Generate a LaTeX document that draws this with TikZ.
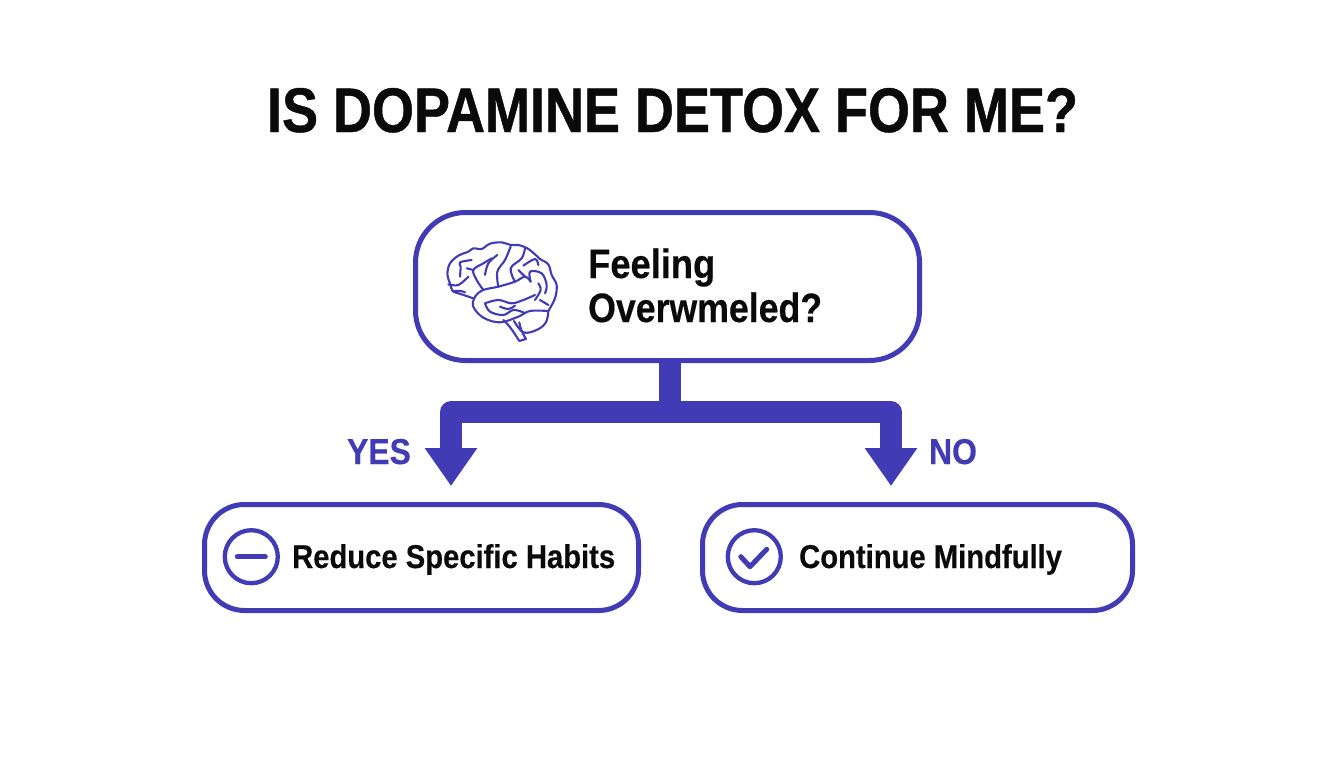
\documentclass[tikz,border=0pt]{standalone}
\usepackage{fontspec}
\usetikzlibrary{arrows.meta}
\setmainfont{Liberation Sans}
\newfontfamily\cond{Liberation Sans Bold}[FakeStretch=0.885,FakeBold=0.35]
\newfontfamily\condq{Liberation Sans Bold}[FakeStretch=0.87,FakeBold=0.35]
\newfontfamily\condt{Liberation Sans Bold}[FakeStretch=0.857,FakeBold=0.7]
\definecolor{ind}{HTML}{413BB5}
\definecolor{ink}{HTML}{0A0A0A}
\tikzset{
 boxs/.style={draw=ind,line width=5pt,fill=white,rounded corners=40pt,inner sep=0pt,outer sep=0pt,anchor=north west},
 lab/.style={font=\cond,text=ink,inner sep=0pt,anchor=base west},
 conn/.style={draw=ind,line width=21.5pt,line join=round},
 arr/.style={conn,-{Triangle[length=38pt,width=50pt]}},
 ic/.style={draw=ind,line width=5pt,line cap=round,line join=round},
 cir/.style={draw=ind,line width=4.3pt,circle,minimum size=53pt,inner sep=0pt,outer sep=0pt},
 br/.style={draw=ind,line width=2.1pt,line cap=round,line join=round},
}
\begin{document}
\begin{tikzpicture}[x=1pt,y=-1pt]
\useasboundingbox (0,0) rectangle (1344,768);
\fill[white] (0,0) rectangle (1344,768);
\node[font=\fontsize{63}{63}\condt,text=ink,inner sep=0pt,anchor=base] (title) at (672.5,132) {IS DOPAMINE DETOX FOR ME?};
\node[boxs,minimum width=504pt,minimum height=148pt,rounded corners=50pt] (main) at (415.5,212.5) {};
\node[boxs,minimum width=434pt,minimum height=106pt] (reduce) at (204.5,504.5) {};
\node[boxs,minimum width=430pt,minimum height=106pt] (cont) at (702.5,504.5) {};
\coordinate (jct) at (670,412);
\coordinate (ltip) at (451,486);
\coordinate (rtip) at (891,486);
\draw[conn] (jct |- main.south) -- (jct);
\draw[arr] (jct) -| (ltip);
\draw[arr] (jct) -| (rtip);
\node[lab,font=\fontsize{41}{41}\cond] (l1) at (588,278) {Feeling};
\node[lab,font=\fontsize{41}{41}\condq] (l2) at (588,322) {Overwmeled?};
\node[lab,font=\fontsize{33}{33}\cond] (r) at (292,568) {Reduce Specific Habits};
\node[lab,font=\fontsize{33}{33}\cond] (c) at (799,568) {Continue Mindfully};
\node[lab,font=\fontsize{36}{36}\cond,text=ind,anchor=base] (yes) at (379,464) {YES};
\node[lab,font=\fontsize{36}{36}\cond,text=ind,anchor=base] (no) at (953,464) {NO};
\node[cir] (ci1) at (251.3,556.7) {};
\draw[ic] ([xshift=-14pt]ci1.center) -- ([xshift=14pt]ci1.center);
\node[cir] (ci2) at (754.3,556.7) {};
\draw[ic] ([shift={(-13.5,0)}]ci2.center) -- ([shift={(-4.3,10)}]ci2.center) -- ([shift={(12.4,-7.4)}]ci2.center);
% brain
\begin{scope}[shift={(440,235)},x=0.3333pt,y=-0.3333pt]
\draw[br] plot[smooth,tension=0.55] coordinates {(100,190)(65,178)(38,168)(30,145)(22,118)(30,85)(55,62)(85,50)(100,40)(125,42)(150,26)(185,22)(212,30)(235,30)(262,40)(285,58)(300,72)(325,88)(335,120)(350,150)(345,190)(325,228)};
\draw[br] plot[smooth,tension=0.6] coordinates {(325,228)(270,228)(235,245)(180,262)(130,248)(100,215)(105,185)(130,165)(175,155)(225,140)(255,125)(272,140)};
\draw[br] plot[smooth,tension=0.6] coordinates {(325,228)(318,262)(290,285)(250,292)(222,258)};
\draw[br] (190,255) .. controls (212,275) and (225,298) .. (238,318) -- (258,312) .. controls (248,295) and (240,280) .. (238,262);
\draw[br] plot[smooth,tension=0.6] coordinates {(135,205)(175,195)(215,205)(250,195)(285,180)};
\draw[br] plot[smooth,tension=0.6] coordinates {(135,205)(150,230)(190,240)(220,225)(250,232)};
\draw[br] plot[smooth,tension=0.6] coordinates {(180,215)(205,222)(225,212)};
\draw[br] plot[smooth,tension=0.6] coordinates {(175,155)(172,110)(195,75)(212,35)};
\draw[br] plot[smooth,tension=0.6] coordinates {(130,165)(110,135)(100,105)(130,85)(155,70)};
\draw[br] plot[smooth,tension=0.6] coordinates {(135,120)(145,85)(172,60)};
\draw[br] plot[smooth,tension=0.6] coordinates {(60,125)(62,95)(60,82)(95,75)};
\draw[br] plot[smooth,tension=0.6] coordinates {(25,148)(55,150)(85,125)};
\draw[br] plot[smooth,tension=0.6] coordinates {(80,100)(100,105)};
\draw[br] plot[smooth,tension=0.6] coordinates {(38,168)(62,168)(75,172)};
\draw[br] plot[smooth,tension=0.6] coordinates {(225,140)(212,100)(245,70)(255,40)};
\draw[br] plot[smooth,tension=0.6] coordinates {(250,92)(285,72)(295,90)};
\draw[br] plot[smooth,tension=0.6] coordinates {(272,140)(270,110)(305,115)(320,150)(315,175)};
\draw[br] plot[smooth,tension=0.6] coordinates {(300,195)(325,210)};
\draw[br] plot[smooth,tension=0.6] coordinates {(295,145)(302,165)(285,195)};
\draw[br] plot[smooth,tension=0.6] coordinates {(235,105)(255,125)};
\end{scope}
\end{tikzpicture}
\end{document}
